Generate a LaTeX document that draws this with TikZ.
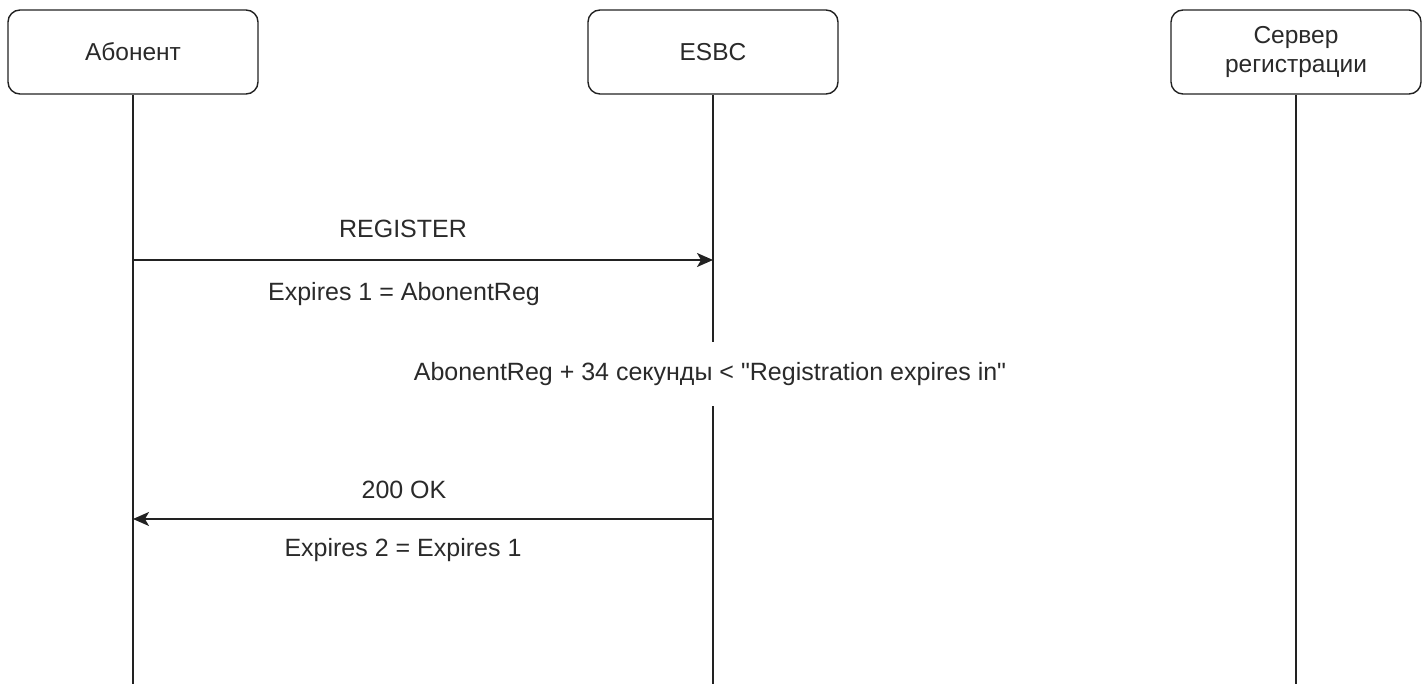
\documentclass[tikz,border=0pt]{standalone}
\usepackage{fontspec}
\setmainfont{Liberation Sans}[Ligatures=TeXOff]
\usetikzlibrary{arrows.meta}
\definecolor{ink}{HTML}{2A2A2A}
\definecolor{linec}{HTML}{222222}
\begin{document}
\begin{tikzpicture}[x=1pt,y=-1pt,
  actor/.style={draw=linec, line width=1.4pt, rounded corners=12pt, minimum width=250pt, minimum height=84pt, align=center, inner sep=0pt, font=\fontsize{24.5}{29}\selectfont, text=ink},
  lifeline/.style={draw=linec, line width=1.4pt},
  msg/.style={draw=linec, line width=1.5pt, -{Stealth[length=16pt,width=14pt,inset=4pt]}},
  lbl/.style={font=\fontsize{25}{29}\selectfont, text=ink, inner sep=2pt},
  note/.style={font=\fontsize{25}{29}\selectfont, text=ink, fill=white, inner xsep=2pt, minimum height=64pt}]
\useasboundingbox (0,0) rectangle (1426,684);
\node[actor] (a) at (133,52) {Абонент};
\node[actor] (e) at (713,52) {ESBC};
\node[actor] (s) at (1296,52) {Сервер\\регистрации};
\coordinate (aend) at (133,684);
\coordinate (eend) at (713,684);
\coordinate (send) at (1296,684);
\draw[lifeline] (a.south) -- (aend);
\draw[lifeline] (e.south) -- (eend);
\draw[lifeline] (s.south) -- (send);
\coordinate (a1) at (133,260);
\coordinate (e1) at (713,260);
\coordinate (a2) at (133,519);
\coordinate (e2) at (713,519);
\draw[msg] (a1) -- (e1);
\draw[msg] (e2) -- (a2);
\node[lbl] (l1) at (403,229) {REGISTER};
\node[lbl] (l2) at (404,294) {Expires 1 = AbonentReg};
\node[note] (l3) at (710,374) {AbonentReg + 34 секунды < "Registration expires in"};
\node[lbl] (l4) at (404,490) {200 OK};
\node[lbl] (l5) at (403,550) {Expires 2 = Expires 1};
\end{tikzpicture}
\end{document}
